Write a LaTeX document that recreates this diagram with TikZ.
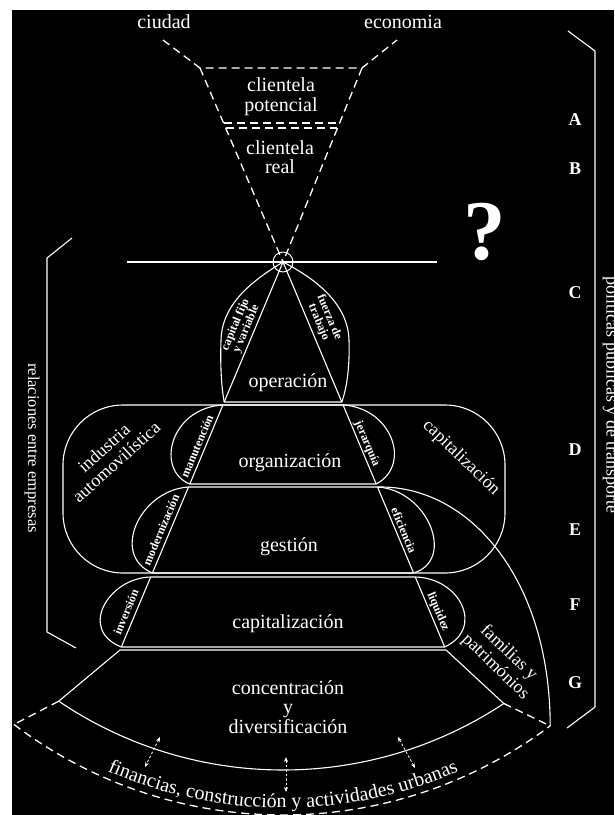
\documentclass[tikz,border=0pt]{standalone}
\usepackage{fontspec}
\setmainfont{Liberation Serif}
\usetikzlibrary{arrows.meta,decorations.text}
\begin{document}
\begin{tikzpicture}[x=1pt,y=-1pt, line join=round,
  ln/.style={white, line width=1.1pt},
  dsh/.style={white, line width=1.3pt, dash pattern=on 8pt off 5pt},
  lbl/.style={text=white, font=\fontsize{20}{20}\selectfont, align=center, inner sep=0pt},
  leaf/.style={text=white, font=\bfseries\fontsize{12}{11.5}\selectfont, align=center, inner sep=0pt},
  side/.style={text=white, font=\fontsize{18}{18.5}\selectfont, align=center, inner sep=0pt},
  letter/.style={text=white, font=\bfseries\fontsize{18}{18}\selectfont, inner sep=0pt},
  vtxt/.style={text=white, font=\fontsize{16.5}{16.5}\selectfont, rotate=-90, inner sep=0pt},
  dblarrow/.style={white, line width=0.8pt, dash pattern=on 2.5pt off 2pt, {Stealth[length=5pt,width=4pt]}-{Stealth[length=5pt,width=4pt]}}
]
\useasboundingbox (0,0) rectangle (614,815);
\fill[white] (0,0) rectangle (614,815);
\fill[black] (12,10) rectangle (614,815);

% ---------- coordinates ----------
\coordinate (ciL) at (163,40);
\coordinate (ecR) at (397,40);
\coordinate (tL) at (200,68);
\coordinate (tR) at (362,68);
\coordinate (apex) at (283,262);
\coordinate (m1L) at (223.5,123); \coordinate (m1R) at (339.5,123);
\coordinate (m2L) at (226,128);   \coordinate (m2R) at (337,128);
\coordinate (hL) at (127,262);    \coordinate (hR) at (437,262);
\coordinate (c1L) at (224.2,402); \coordinate (c1R) at (341.8,402);
\coordinate (d0L) at (222.9,405); \coordinate (d0R) at (343.1,405);
\coordinate (d1L) at (189.8,484); \coordinate (d1R) at (376.2,484);
\coordinate (e0L) at (188.5,487); \coordinate (e0R) at (377.5,487);
\coordinate (e1L) at (152.4,573); \coordinate (e1R) at (413.6,573);
\coordinate (f0L) at (150.7,577); \coordinate (f0R) at (415.3,577);
\coordinate (f1L) at (121.3,647); \coordinate (f1R) at (444.7,647);
\coordinate (g0L) at (120,650);   \coordinate (g0R) at (446,650);
\coordinate (sL) at (58.7,701.2); \coordinate (sR) at (503.8,703.5);
\coordinate (dL) at (14,724.4);   \coordinate (dR) at (550.2,725.9);
\coordinate (rb1) at (568,31); \coordinate (rb2) at (595,51);
\coordinate (rb3) at (595,707); \coordinate (rb4) at (567,728);
\coordinate (lb1) at (72,238); \coordinate (lb2) at (47,258);
\coordinate (lb3) at (47,632); \coordinate (lb4) at (76,648);
\coordinate (a1t) at (160,737); \coordinate (a1b) at (145,767);
\coordinate (a2t) at (286,757); \coordinate (a2b) at (286,792);
\coordinate (a3t) at (398,737); \coordinate (a3b) at (415,768);

% ---------- upper funnel ----------
\draw[dsh] (ciL) -- (tL) -- (tR) -- (ecR);
\draw[dsh] (tL) -- (apex);
\draw[dsh] (tR) -- (apex);
\draw[dsh] (m1L) -- (m1R);
\draw[dsh] (m2L) -- (m2R);
\draw[white, line width=2.8pt] (hL) -- (hR);

% ---------- pyramid ----------
\draw[ln] (apex) -- (c1L) -- (c1R) -- cycle;
\draw[ln] (apex) .. controls (250,282) and (222,305) .. (221,340) .. controls (220,370) and (222,390) .. (c1L);
\draw[ln] (apex) .. controls (318,280) and (348,305) .. (349,340) .. controls (350,370) and (346,390) .. (c1R);
\node[circle, draw=white, line width=1pt, minimum size=20pt, inner sep=0pt] (hub) at (apex) {};

\draw[ln] (d0L) -- (d0R) -- (d1R) -- (d1L) -- cycle;
\draw[ln] (d0L) .. controls (170,408) and (155,470) .. (d1L);
\draw[ln] (d0R) .. controls (392,408) and (412,465) .. (d1R);

\draw[ln] (e0L) -- (e0R) -- (e1R) -- (e1L) -- cycle;
\draw[ln] (e0L) .. controls (140,490) and (110,555) .. (e1L);
\draw[ln] (e0R) .. controls (428,490) and (456,560) .. (e1R);

\draw[ln] (f0L) -- (f0R) -- (f1R) -- (f1L) -- cycle;
\draw[ln] (f0L) .. controls (108,578) and (78,630) .. (f1L);
\draw[ln] (f0R) .. controls (460,578) and (485,628) .. (f1R);

\draw[ln] (sL) -- (g0L) -- (g0R) -- (sR);
\draw[ln] plot[domain=124.1:56.5, samples=90] ({283+400*cos(\x)},{370+400*sin(\x)});
\draw[dsh] (sL) -- (dL);
\draw[dsh] (sR) -- (dR);
\draw[dsh] plot[domain=127.2:53.1, samples=120] ({283+445*cos(\x)},{370+445*sin(\x)});

% ---------- stadium and big curve ----------
\draw[ln, rounded corners=60pt] (63,405) rectangle (505,573);
\draw[ln] (e0R) .. controls (470,485) and (550,580) .. (dR);

% ---------- brackets ----------
\draw[ln] (rb1) -- (rb2) -- (rb3) -- (rb4);
\draw[ln] (lb1) -- (lb2) -- (lb3) -- (lb4);

% ---------- arrows ----------
\draw[dblarrow] (a1t) -- (a1b);
\draw[dblarrow] (a2t) -- (a2b);
\draw[dblarrow] (a3t) -- (a3b);

% ---------- texts ----------
\node[lbl] (ciudad) at (164,22) {ciudad};
\node[lbl] (econ) at (403,22) {economia};
\node[lbl] (cpot) at (281,97) {clientela\\potencial};
\node[lbl, font=\fontsize{20}{19}\selectfont] (creal) at (280,157) {clientela\\real};
\node[text=white, font=\bfseries\fontsize{85}{85}\selectfont, inner sep=0pt] (q) at (485,232) {?};

\node[letter] (lA) at (575,120) {A};
\node[letter] (lB) at (575,169) {B};
\node[letter] (lC) at (575,293) {C};
\node[letter] (lD) at (575,450) {D};
\node[letter] (lE) at (575,530) {E};
\node[letter] (lF) at (575,605) {F};
\node[letter] (lG) at (575,683) {G};

\node[lbl] (oper) at (288,383) {operación};
\node[lbl] (orga) at (290,463) {organización};
\node[lbl] (gest) at (289,547) {gestión};
\node[lbl] (capi) at (288,624) {capitalización};
\node[lbl, font=\fontsize{20}{19.5}\selectfont] (conc) at (288,707) {concentración\\y\\diversificación};

\node[leaf, rotate=67] (lcap) at (241,327) {capital fijo\\y variable};
\node[leaf, rotate=-67] (lfue) at (324,320) {fuerza de\\trabajo};
\node[leaf, rotate=67] (lman) at (197,446) {manutención};
\node[leaf, rotate=-67] (ljer) at (367,444) {jerarquía};
\node[leaf, rotate=67] (lmod) at (161,530) {modernización};
\node[leaf, rotate=-67] (lefi) at (404,530) {eficiencia};
\node[leaf, rotate=67] (linv) at (126,612) {inversión};
\node[leaf, rotate=-67] (lliq) at (438,612) {liquidez};

\node[side, rotate=42] (ind) at (110,455) {industria\\automovilística};
\node[side, rotate=-44] (capz) at (461,458) {capitalización};
\node[side, rotate=-44, font=\fontsize{18}{19}\selectfont] (fam) at (502,660) {familias y\\patrimónios};

\node[vtxt] (rel) at (32,448) {relaciones entre empresas};
\node[vtxt, font=\fontsize{18}{18}\selectfont] (pol) at (611,395) {políticas públicas y de transporte};

\path[decorate, decoration={text along path, text align=center,
  text={|\fontsize{20}{20}\selectfont\color{white}|financias, construcción y actividades urbanas}}]
  plot[domain=135:45, samples=150] ({283+438*cos(\x)},{370+438*sin(\x)});
\end{tikzpicture}
\end{document}
